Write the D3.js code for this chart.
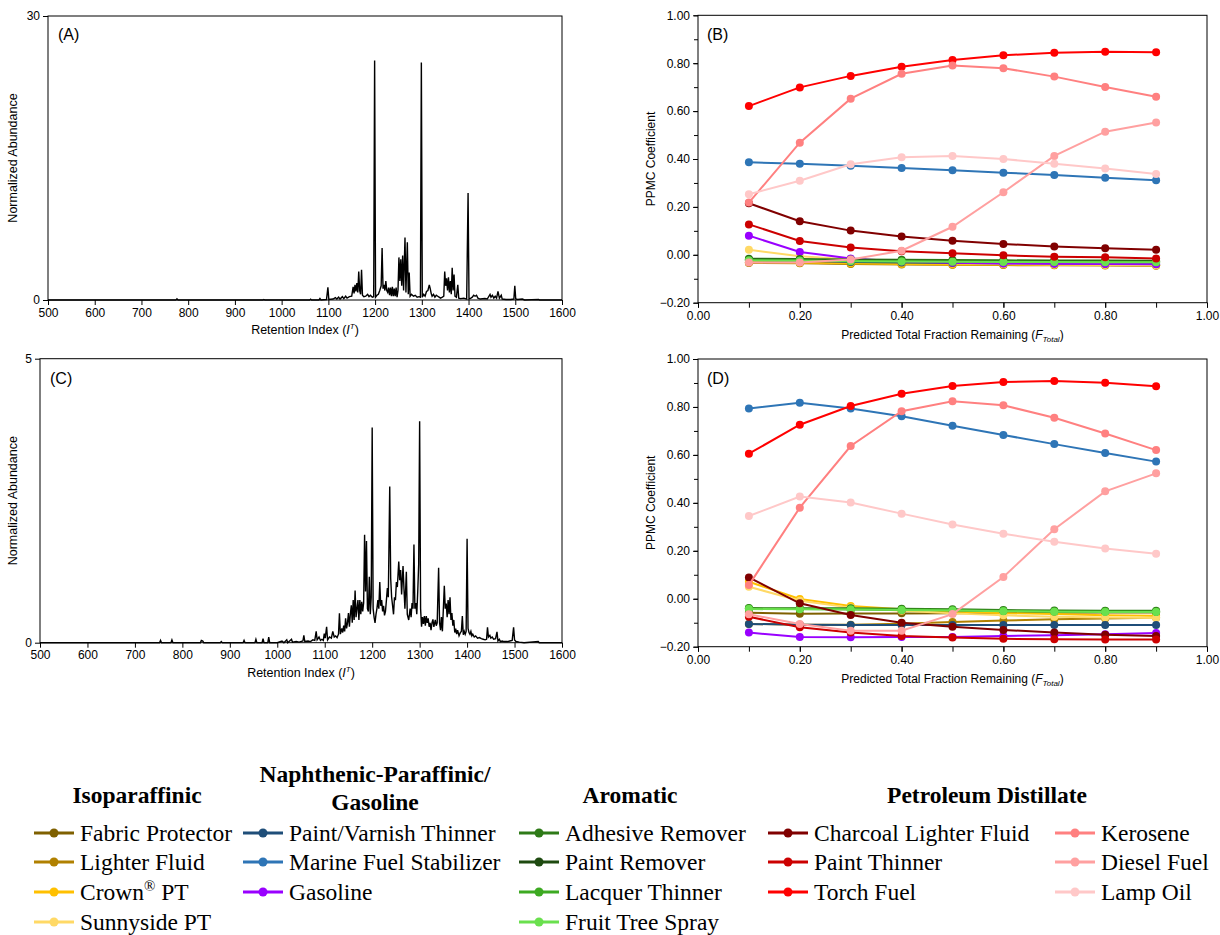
<!DOCTYPE html>
<html><head><meta charset="utf-8">
<script src="https://cdn.jsdelivr.net/npm/d3@7"></script>
<style>body{margin:0;background:#fff}</style>
</head><body>
<svg id="c" width="1220" height="935" xmlns="http://www.w3.org/2000/svg"></svg>
<script>
// ---------------- DATA ----------------
const riTicks = [500,600,700,800,900,1000,1100,1200,1300,1400,1500,1600];
const ppmcTicks = [-0.2,0,0.2,0.4,0.6,0.8,1.0];
const fracTicks = [0,0.2,0.4,0.6,0.8,1.0];
const fractions = [0.1,0.2,0.3,0.4,0.5,0.6,0.7,0.8,0.9];

// Chromatogram (A): [retention index, normalized abundance]
const chromA = [[500,0],[700,0],[774,0],[776,0.12],[778,0],[960,0],[962,0.05],[964,0],[1060,0],[1062,0.08],[1064,0],[1080,0],[1082,0.15],[1084,0],[1096,0.05],[1099,1.35],[1101,0.05],[1110,0.1],[1115,0.25],[1118,0.1],[1122,0.3],[1125,0.1],[1130,0.35],[1133,0.15],[1137,0.4],[1140,0.2],[1145,0.35],[1150,0.4],[1153,1.4],[1155,0.7],[1157,1.6],[1159,0.9],[1161,1.8],[1163,0.8],[1165,3.0],[1167,1.0],[1169,0.6],[1171,3.2],[1173,0.5],[1176,0.35],[1180,0.4],[1184,0.6],[1187,0.35],[1190,0.5],[1194,0.3],[1197,0.35],[1199,25.3],[1201,0.3],[1204,0.5],[1207,0.6],[1210,1.0],[1213,1.5],[1215,5.5],[1217,1.2],[1219,1.6],[1221,1.0],[1223,2.0],[1225,1.0],[1227,0.8],[1229,1.3],[1231,0.5],[1233,1.3],[1235,0.4],[1237,1.4],[1239,0.4],[1241,1.2],[1243,0.4],[1245,1.3],[1247,0.3],[1249,1.0],[1251,4.5],[1253,2.0],[1255,4.3],[1257,1.5],[1259,4.7],[1261,1.0],[1264,6.6],[1266,0.8],[1269,6.1],[1271,0.6],[1273,2.9],[1275,0.4],[1278,0.6],[1282,0.4],[1286,0.5],[1290,0.3],[1294,0.35],[1297,0.3],[1299,25.1],[1301,0.3],[1304,0.6],[1307,0.4],[1310,0.9],[1313,1.0],[1316,1.6],[1318,1.2],[1320,0.7],[1322,0.4],[1325,0.6],[1328,0.3],[1331,0.5],[1334,0.4],[1337,0.3],[1340,0.2],[1344,0.3],[1347,0.4],[1349,3.0],[1351,1.5],[1353,2.3],[1355,1.0],[1357,2.4],[1359,0.8],[1361,2.0],[1363,0.6],[1365,3.4],[1367,1.0],[1369,2.7],[1371,0.4],[1374,0.3],[1377,1.6],[1379,0.2],[1383,0.15],[1390,0.2],[1396,0.1],[1399,11.3],[1401,0.1],[1405,0.2],[1408,0.3],[1411,0.5],[1414,0.4],[1417,0.5],[1420,0.2],[1425,0.1],[1435,0.15],[1440,0.1],[1446,0.6],[1448,0.3],[1451,0.5],[1454,0.2],[1457,0.4],[1460,0.2],[1463,0.9],[1466,0.2],[1470,0.5],[1472,0.1],[1480,0.05],[1490,0.05],[1497,0.1],[1499,1.5],[1501,0.1],[1505,0.05],[1515,0.1],[1520,0],[1550,0.05],[1552,0],[1600,0]];

// Chromatogram (C)
const chromC = [[500,0],[752,0],[754,0.04],[756,0],[776,0],[778,0.05],[780,0],[838,0],[840,0.04],[843,0.03],[845,0],[880,0],[882,0.02],[884,0],[928,0],[930,0.04],[932,0],[953,0],[955,0.06],[957,0],[968,0],[970,0.07],[972,0],[980,0],[982,0.1],[984,0],[1000,0],[1010,0.03],[1014,0],[1020,0.05],[1022,0],[1030,0.06],[1032,0.01],[1040,0.02],[1046,0.01],[1054,0.03],[1056,0.13],[1058,0.02],[1065,0.03],[1070,0.02],[1075,0.05],[1079,0.04],[1082,0.2],[1084,0.05],[1088,0.1],[1091,0.04],[1094,0.06],[1097,0.04],[1099,0.16],[1101,0.08],[1104,0.28],[1106,0.05],[1110,0.1],[1114,0.08],[1117,0.2],[1120,0.1],[1123,0.12],[1126,0.09],[1129,0.15],[1131,0.52],[1133,0.15],[1136,0.25],[1138,0.18],[1140,0.3],[1142,0.2],[1144,0.43],[1146,0.25],[1148,0.35],[1150,0.52],[1152,0.28],[1154,0.5],[1156,0.66],[1158,0.35],[1160,0.75],[1162,0.4],[1164,0.92],[1166,0.45],[1168,0.6],[1170,0.75],[1172,0.4],[1174,0.75],[1176,0.5],[1178,0.72],[1180,0.55],[1182,0.7],[1184,1.90],[1186,0.9],[1188,1.79],[1190,0.6],[1192,0.55],[1194,1.16],[1196,0.5],[1198,0.8],[1200,3.79],[1202,0.6],[1204,0.45],[1206,0.35],[1208,0.5],[1210,0.6],[1212,0.75],[1214,0.6],[1216,1.07],[1218,0.65],[1220,0.75],[1222,0.55],[1224,0.65],[1226,0.48],[1228,0.55],[1230,0.75],[1232,0.96],[1234,0.8],[1237,2.75],[1239,1.13],[1241,0.8],[1243,0.65],[1245,0.5],[1247,0.8],[1249,0.75],[1251,1.07],[1253,0.98],[1256,1.43],[1258,1.1],[1260,1.28],[1262,0.85],[1265,1.35],[1267,0.95],[1269,0.6],[1272,1.25],[1274,0.5],[1277,0.4],[1280,0.6],[1282,0.45],[1284,0.7],[1286,0.6],[1288,1.73],[1290,0.6],[1292,0.7],[1294,0.5],[1296,0.9],[1298,1.38],[1300,3.90],[1302,0.6],[1304,0.28],[1306,0.45],[1308,0.33],[1310,0.47],[1312,0.3],[1314,0.47],[1316,0.35],[1318,0.43],[1320,0.28],[1322,0.35],[1324,0.22],[1326,0.35],[1328,0.41],[1330,0.28],[1333,0.4],[1335,0.3],[1337,0.35],[1340,1.32],[1342,0.35],[1344,0.22],[1346,0.45],[1348,0.2],[1350,0.6],[1352,1.0],[1354,0.6],[1356,0.69],[1358,0.45],[1360,0.75],[1362,0.5],[1364,0.80],[1366,0.4],[1368,0.52],[1370,0.3],[1372,0.4],[1374,0.18],[1376,0.25],[1378,0.15],[1380,0.22],[1383,0.12],[1386,0.18],[1388,0.2],[1390,0.47],[1392,0.14],[1394,0.2],[1396,0.15],[1398,0.2],[1400,1.83],[1402,0.25],[1404,0.18],[1406,0.15],[1408,0.2],[1410,0.12],[1412,0.15],[1415,0.1],[1418,0.12],[1422,0.08],[1426,0.09],[1430,0.07],[1434,0.06],[1438,0.05],[1441,0.06],[1443,0.27],[1445,0.1],[1448,0.13],[1450,0.08],[1453,0.1],[1456,0.06],[1460,0.07],[1463,0.19],[1465,0.03],[1468,0.06],[1470,0.02],[1474,0.03],[1478,0.02],[1485,0.02],[1490,0.03],[1495,0.04],[1498,0.27],[1500,0.05],[1503,0.02],[1510,0.01],[1520,0],[1550,0.02],[1552,0],[1600,0]];

// Legend groups and series
const groupTitles = ["Isoparaffinic","Naphthenic-Paraffinic/\nGasoline","Aromatic","Petroleum Distillate"];
const seriesNames = ["Fabric Protector","Lighter Fluid","Crown® PT","Sunnyside PT",
  "Paint/Varnish Thinner","Marine Fuel Stabilizer","Gasoline",
  "Adhesive Remover","Paint Remover","Lacquer Thinner","Fruit Tree Spray",
  "Charcoal Lighter Fluid","Paint Thinner","Torch Fuel","Kerosene","Diesel Fuel","Lamp Oil"];
const seriesColors = ["#7f6000","#b08000","#ffc000","#ffd966",
  "#1f4e79","#2e75b6","#9900ff",
  "#2e7a18","#1e4a10","#3daa22","#6ae04e",
  "#800000","#cc0000","#ff0000","#ff8080","#ffa0a0","#ffc8c8"];

// Panel B PPMC values (F_Total = 0.1 ... 0.9)
const bFabricProtector = [-0.032,-0.033,-0.036,-0.038,-0.040,-0.041,-0.042,-0.043,-0.044];
const bLighterFluid    = [-0.034,-0.035,-0.038,-0.040,-0.042,-0.043,-0.044,-0.045,-0.046];
const bCrownPT         = [-0.030,-0.032,-0.035,-0.038,-0.040,-0.041,-0.042,-0.043,-0.044];
const bSunnysidePT     = [0.021,-0.006,-0.020,-0.030,-0.035,-0.038,-0.040,-0.042,-0.044];
const bPaintVarnish    = [-0.022,-0.025,-0.030,-0.032,-0.034,-0.035,-0.036,-0.037,-0.038];
const bMarineFuel      = [0.386,0.380,0.372,0.362,0.353,0.343,0.333,0.322,0.311];
const bGasoline        = [0.080,0.012,-0.015,-0.028,-0.033,-0.036,-0.037,-0.038,-0.039];
const bAdhesive        = [-0.016,-0.018,-0.020,-0.021,-0.022,-0.023,-0.024,-0.024,-0.025];
const bPaintRemover    = [-0.020,-0.021,-0.024,-0.025,-0.026,-0.027,-0.027,-0.028,-0.028];
const bLacquer         = [-0.022,-0.023,-0.026,-0.027,-0.028,-0.028,-0.029,-0.029,-0.030];
const bFruitTree       = [-0.024,-0.025,-0.027,-0.028,-0.029,-0.030,-0.030,-0.031,-0.031];
const bCharcoal        = [0.215,0.140,0.101,0.076,0.059,0.045,0.035,0.027,0.021];
const bPaintThinner    = [0.127,0.058,0.030,0.015,0.006,-0.002,-0.008,-0.010,-0.015];
const bTorchFuel       = [0.621,0.699,0.747,0.785,0.813,0.833,0.844,0.848,0.846];
const bKerosene        = [0.218,0.468,0.652,0.756,0.790,0.779,0.744,0.701,0.660];
const bDiesel          = [-0.032,-0.032,-0.020,0.017,0.117,0.261,0.413,0.514,0.552];
const bLampOil         = [0.253,0.309,0.378,0.407,0.413,0.400,0.380,0.360,0.337];

// Panel D PPMC values
const dFabricProtector = [-0.058,-0.063,-0.062,-0.061,-0.060,-0.059,-0.058,-0.057,-0.057];
const dLighterFluid    = [-0.105,-0.108,-0.108,-0.104,-0.097,-0.091,-0.086,-0.082,-0.079];
const dCrownPT         = [0.071,-0.001,-0.030,-0.044,-0.053,-0.060,-0.064,-0.069,-0.071];
const dSunnysidePT     = [0.050,-0.008,-0.037,-0.050,-0.061,-0.069,-0.075,-0.078,-0.080];
const dPaintVarnish    = [-0.105,-0.108,-0.110,-0.110,-0.110,-0.110,-0.110,-0.110,-0.110];
const dMarineFuel      = [0.794,0.818,0.794,0.761,0.722,0.683,0.645,0.608,0.572];
const dGasoline        = [-0.141,-0.160,-0.161,-0.160,-0.160,-0.155,-0.152,-0.148,-0.143];
const dAdhesive        = [-0.039,-0.040,-0.040,-0.042,-0.044,-0.047,-0.049,-0.050,-0.050];
const dPaintRemover    = [-0.042,-0.043,-0.044,-0.046,-0.048,-0.051,-0.053,-0.053,-0.054];
const dLacquer         = [-0.041,-0.042,-0.043,-0.045,-0.047,-0.050,-0.052,-0.052,-0.053];
const dFruitTree       = [-0.043,-0.044,-0.045,-0.047,-0.049,-0.052,-0.054,-0.055,-0.055];
const dCharcoal        = [0.089,-0.019,-0.068,-0.100,-0.117,-0.130,-0.141,-0.150,-0.155];
const dPaintThinner    = [-0.075,-0.119,-0.141,-0.155,-0.162,-0.167,-0.169,-0.170,-0.170];
const dTorchFuel       = [0.605,0.726,0.804,0.855,0.887,0.904,0.908,0.901,0.886];
const dKerosene        = [0.057,0.380,0.637,0.782,0.824,0.807,0.755,0.689,0.620];
const dDiesel          = [-0.065,-0.105,-0.133,-0.133,-0.064,0.091,0.290,0.448,0.523];
const dLampOil         = [0.345,0.426,0.401,0.355,0.310,0.271,0.238,0.210,0.188];

const panelBValues = [bFabricProtector,bLighterFluid,bCrownPT,bSunnysidePT,bPaintVarnish,bMarineFuel,bGasoline,bAdhesive,bPaintRemover,bLacquer,bFruitTree,bCharcoal,bPaintThinner,bTorchFuel,bKerosene,bDiesel,bLampOil];
const panelDValues = [dFabricProtector,dLighterFluid,dCrownPT,dSunnysidePT,dPaintVarnish,dMarineFuel,dGasoline,dAdhesive,dPaintRemover,dLacquer,dFruitTree,dCharcoal,dPaintThinner,dTorchFuel,dKerosene,dDiesel,dLampOil];

// ---------------- DRAWING ----------------
const svg = d3.select("#c");
const SANS = "'Liberation Sans', Arial, sans-serif";
const SERIF = "'Liberation Serif', 'Times New Roman', serif";

function styleAxis(g){
  g.select(".domain").remove();
  g.selectAll(".tick line").attr("stroke","#000").attr("stroke-width",1);
  g.selectAll(".tick text").attr("font-family",SANS).attr("font-size",12).attr("fill","#000");
}
function frame(p){
  svg.append("rect").attr("x",p.x0).attr("y",p.y0).attr("width",p.x1-p.x0).attr("height",p.y1-p.y0)
    .attr("fill","none").attr("stroke","#000").attr("stroke-width",1);
}
function panelLabel(txt,x,y){
  svg.append("text").attr("x",x).attr("y",y).attr("font-family",SANS).attr("font-size",16).text(txt);
}

function chromPanel(p, data, ymax, label, labelPos){
  const x = d3.scaleLinear().domain([500,1600]).range([p.x0,p.x1]);
  const y = d3.scaleLinear().domain([0,ymax]).range([p.y1,p.y0]);
  svg.append("path").datum(data)
    .attr("d", d3.line().x(d=>x(d[0])).y(d=>y(d[1])))
    .attr("fill","none").attr("stroke","#000").attr("stroke-width",1.4).attr("stroke-linejoin","miter");
  frame(p);
  const gx = svg.append("g").attr("transform",`translate(0,${p.y1})`)
    .call(d3.axisBottom(x).tickValues(riTicks).tickSize(5).tickPadding(3).tickFormat(d3.format("d")));
  styleAxis(gx);
  const gy = svg.append("g").attr("transform",`translate(${p.x0},0)`)
    .call(d3.axisLeft(y).tickValues([0,ymax]).tickSize(5).tickPadding(3).tickFormat(d3.format("d")));
  styleAxis(gy);
  const xt = svg.append("text").attr("x",(p.x0+p.x1)/2).attr("y",p.y1+34).attr("text-anchor","middle")
    .attr("font-family",SANS).attr("font-size",12.5);
  xt.append("tspan").text("Retention Index (");
  xt.append("tspan").attr("font-style","italic").text("I");
  xt.append("tspan").attr("font-size",8).attr("dy",-5).attr("font-style","italic").text("T");
  xt.append("tspan").attr("dy",5).text(")");
  svg.append("text").attr("transform",`translate(17,${(p.y0+p.y1)/2}) rotate(-90)`)
    .attr("text-anchor","middle").attr("font-family",SANS).attr("font-size",12.5).text("Normalized Abundance");
  panelLabel(label,labelPos[0],labelPos[1]);
}

function ppmcPanel(p, values, label, labelPos){
  const x = d3.scaleLinear().domain([0,1]).range([p.x0,p.x1]);
  const y = d3.scaleLinear().domain([-0.2,1.0]).range([p.y1,p.y0]);
  frame(p);
  const minorX = d3.range(0,1.0001,0.1);
  const gxm = svg.append("g").attr("transform",`translate(0,${p.y1})`)
    .call(d3.axisBottom(x).tickValues(minorX).tickSize(5).tickFormat(""));
  styleAxis(gxm);
  const gx = svg.append("g").attr("transform",`translate(0,${p.y1})`)
    .call(d3.axisBottom(x).tickValues(fracTicks).tickSize(5).tickPadding(4).tickFormat(d3.format(".2f")));
  styleAxis(gx);
  const minorY = d3.range(-0.2,1.0001,0.1);
  const gym = svg.append("g").attr("transform",`translate(${p.x0},0)`)
    .call(d3.axisLeft(y).tickValues(minorY).tickSize(4).tickFormat(""));
  styleAxis(gym);
  const gy = svg.append("g").attr("transform",`translate(${p.x0},0)`)
    .call(d3.axisLeft(y).tickValues(ppmcTicks).tickSize(5).tickPadding(3).tickFormat(d3.format(".2f")));
  styleAxis(gy);
  const line = d3.line().x((d,i)=>x(fractions[i])).y(d=>y(d));
  values.forEach((vals,k)=>{
    const g = svg.append("g");
    g.append("path").datum(vals).attr("d",line).attr("fill","none")
      .attr("stroke",seriesColors[k]).attr("stroke-width",2);
    g.selectAll("circle").data(vals).join("circle")
      .attr("cx",(d,i)=>x(fractions[i])).attr("cy",d=>y(d)).attr("r",4)
      .attr("fill",seriesColors[k]);
  });
  const xt = svg.append("text").attr("x",(p.x0+p.x1)/2).attr("y",p.y1+36).attr("text-anchor","middle")
    .attr("font-family",SANS).attr("font-size",12);
  xt.append("tspan").text("Predicted Total Fraction Remaining (");
  xt.append("tspan").attr("font-style","italic").text("F");
  xt.append("tspan").attr("font-style","italic").attr("font-size",8).attr("dy",3).text("Total");
  xt.append("tspan").attr("dy",-3).text(")");
  svg.append("text").attr("transform",`translate(655,${(p.y0+p.y1)/2}) rotate(-90)`)
    .attr("text-anchor","middle").attr("font-family",SANS).attr("font-size",12).text("PPMC Coefficient");
  panelLabel(label,labelPos[0],labelPos[1]);
}

chromPanel({x0:48,x1:562,y0:16,y1:300}, chromA, 30, "(A)", [58,40]);
chromPanel({x0:40,x1:562,y0:358.7,y1:642.7}, chromC, 5, "(C)", [50,384]);
ppmcPanel({x0:698,x1:1207,y0:15.3,y1:302.7}, panelBValues, "(B)", [707,40]);
ppmcPanel({x0:698,x1:1207,y0:359,y1:646.7}, panelDValues, "(D)", [707,384]);

// ---------------- LEGEND ----------------
const legendColumns = [
  {title:["Isoparaffinic"], cx:137, lx:34, items:[0,1,2,3]},
  {title:["Naphthenic-Paraffinic/","Gasoline"], cx:375, lx:243, items:[4,5,6]},
  {title:["Aromatic"], cx:630, lx:519, items:[7,8,9,10]},
  {title:["Petroleum Distillate"], cx:987, lx:768, items:[11,12,13]},
  {title:[], cx:0, lx:1055, items:[14,15,16]}
];
const rowY = [833,862,892,922];
const LFS = 23.5;
legendColumns.forEach(col=>{
  if(col.title.length===1){
    svg.append("text").attr("x",col.cx).attr("y",803).attr("text-anchor","middle")
      .attr("font-family",SERIF).attr("font-weight","bold").attr("font-size",LFS).text(col.title[0]);
  } else if(col.title.length===2){
    col.title.forEach((t,i)=>svg.append("text").attr("x",col.cx).attr("y",782+i*28).attr("text-anchor","middle")
      .attr("font-family",SERIF).attr("font-weight","bold").attr("font-size",LFS).text(t));
  }
  col.items.forEach((k,j)=>{
    const yy = rowY[j];
    svg.append("line").attr("x1",col.lx).attr("x2",col.lx+40).attr("y1",yy).attr("y2",yy)
      .attr("stroke",seriesColors[k]).attr("stroke-width",3);
    svg.append("circle").attr("cx",col.lx+20).attr("cy",yy).attr("r",4.5).attr("fill",seriesColors[k]);
    const t = svg.append("text").attr("x",col.lx+46).attr("y",yy+8)
      .attr("font-family",SERIF).attr("font-size",LFS);
    const name = seriesNames[k];
    if(name.includes("®")){
      const parts = name.split("®");
      t.append("tspan").text(parts[0]);
      t.append("tspan").attr("font-size",15).attr("dy",-9).text("®");
      t.append("tspan").attr("dy",9).text(parts[1]);
    } else t.text(name);
  });
});
</script>
</body></html>
